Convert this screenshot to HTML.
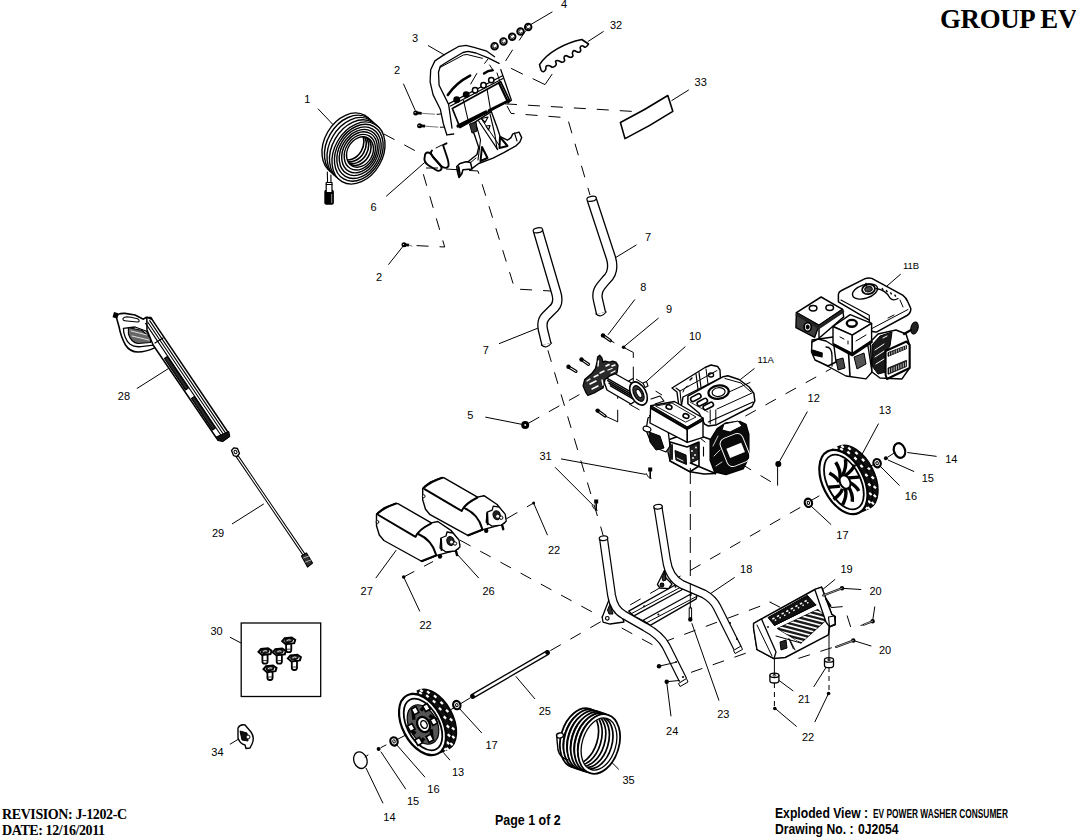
<!DOCTYPE html>
<html><head><meta charset="utf-8">
<style>
html,body{margin:0;padding:0;background:#fff;}
body{width:1076px;height:838px;overflow:hidden;position:relative;}
svg{position:absolute;left:0;top:0;}
.lb text{font-family:"Liberation Sans",sans-serif;font-size:11px;fill:#000;text-anchor:middle;}
.ld line{stroke:#000;stroke-width:1;}
.ds path,.dsh{stroke:#000;stroke-width:1;fill:none;stroke-dasharray:12 11;}
.dsh2{stroke:#000;stroke-width:1;fill:none;stroke-dasharray:5 4;}
.k{stroke:#000;stroke-width:1.2;fill:#fff;stroke-linejoin:round;}
.kn{stroke:#000;stroke-width:1.2;fill:none;stroke-linejoin:round;stroke-linecap:round;}
.ser{font-family:"Liberation Serif",serif;font-weight:bold;position:absolute;white-space:nowrap;line-height:1;}
.san{font-family:"Liberation Sans",sans-serif;font-weight:bold;position:absolute;white-space:nowrap;line-height:1;transform-origin:0 0;}
</style></head><body>
<svg width="1076" height="838" viewBox="0 0 1076 838">
<g class="ld"><line x1="530" y1="25" x2="552.4" y2="11.8"/><line x1="603.6" y1="31.4" x2="587.8" y2="41.6"/><line x1="428" y1="45.5" x2="444.5" y2="55"/><line x1="688.8" y1="89.9" x2="671.5" y2="100.7"/><line x1="403.4" y1="83.7" x2="415.3" y2="110.6"/><line x1="317.9" y1="108.7" x2="334.2" y2="125.8"/><line x1="386.2" y1="196.3" x2="425" y2="162.2"/><line x1="388.4" y1="264.7" x2="404.2" y2="244.8"/><line x1="636.5" y1="244.8" x2="614.3" y2="258.4"/><line x1="499" y1="343.7" x2="538.5" y2="327.9"/><line x1="634.9" y1="299.4" x2="608" y2="334.8"/><line x1="658.6" y1="318" x2="623.8" y2="346.8"/><line x1="685.4" y1="346.5" x2="645" y2="382.7"/><line x1="754.5" y1="368.4" x2="740.3" y2="379.6"/><line x1="900.8" y1="274" x2="887" y2="286"/><line x1="136.8" y1="388.6" x2="168.5" y2="368.5"/><line x1="807.4" y1="411.5" x2="778.5" y2="463.2"/><line x1="878.5" y1="423.6" x2="861.5" y2="455.4"/><line x1="485.3" y1="417.1" x2="521.6" y2="424.3"/><line x1="561" y1="458.9" x2="645.7" y2="474.4"/><line x1="555" y1="467.2" x2="593.2" y2="505.4"/><line x1="907.3" y1="452.5" x2="936.6" y2="456.4"/><line x1="888" y1="460" x2="914.2" y2="471.6"/><line x1="880" y1="466" x2="899.5" y2="485.6"/><line x1="811" y1="506" x2="831.2" y2="524.7"/><line x1="232" y1="524" x2="263.8" y2="503.9"/><line x1="547.5" y1="535.2" x2="533.6" y2="503"/><line x1="375.8" y1="578.1" x2="396.2" y2="550.2"/><line x1="478.8" y1="578.1" x2="457.4" y2="554.5"/><line x1="419.8" y1="611.4" x2="403.7" y2="577"/><line x1="734.7" y1="577.4" x2="709" y2="594.6"/><line x1="835.2" y1="579.3" x2="822.7" y2="589.5"/><line x1="861.2" y1="589.5" x2="842" y2="588.3"/><line x1="871.4" y1="646.1" x2="853.3" y2="640.5"/><line x1="874.8" y1="606.5" x2="872.6" y2="621.2"/><line x1="793.3" y1="691" x2="778.5" y2="680.1"/><line x1="813.7" y1="686.9" x2="827.3" y2="665.4"/><line x1="796.7" y1="726.6" x2="775.1" y2="708.4"/><line x1="814.8" y1="722" x2="828.4" y2="693.7"/><line x1="719" y1="700.6" x2="691.8" y2="623.2"/><line x1="535" y1="699" x2="515.8" y2="676.3"/><line x1="481.8" y1="733" x2="459" y2="708"/><line x1="450" y1="760.2" x2="443.2" y2="752.3"/><line x1="425" y1="777.2" x2="396.7" y2="744.8"/><line x1="405.8" y1="789.2" x2="380.8" y2="751.6"/><line x1="383" y1="803.3" x2="366" y2="768"/><line x1="618.8" y1="769.4" x2="610.9" y2="761.5"/><line x1="229.9" y1="637.2" x2="241.2" y2="643.1"/><line x1="229.9" y1="744.3" x2="238.9" y2="738.9"/><line x1="671" y1="716.3" x2="666.7" y2="682.2"/><line x1="777.6" y1="464" x2="777.6" y2="485.6"/></g>
<g class="ds"><path d="M482,102.5 L640.8,111.9"/><path d="M507,106 L511,113.4 L567.4,117.8 L590,195"/><path d="M446,169 L478,171 L514.8,289 L551,291"/><path d="M438,168 L421.5,168 L444.7,247 L412,245.4"/><path d="M384,134 L425,156"/><path d="M547.9,350.3 L601.6,530 L610,560"/><path d="M528.8,423 L586,390.9"/><path d="M617.7,421.8 L617.7,396"/><path d="M636,379 L662,395"/><path d="M629,404 L652,417"/><path d="M460,540.2 L654.1,645.6 L771.2,602.1"/><path d="M550.4,650.6 L808,503"/><path d="M507,518.5 L533.6,503"/><path d="M691,672.4 L757.8,649"/><path d="M745.3,416.1 L831.4,368.5"/><path d="M740.8,463.7 L774.8,484.1"/></g>
<g><ellipse class="k" cx="348.5" cy="144.0" rx="24.0" ry="33.0" transform="rotate(30 348.5 144.0)" style="stroke-width:1.4"/><ellipse class="k" cx="351.0" cy="146.2" rx="24.0" ry="33.0" transform="rotate(30 351.0 146.2)" style="stroke-width:1.4"/><ellipse class="k" cx="353.5" cy="148.5" rx="24.0" ry="33.0" transform="rotate(30 353.5 148.5)" style="stroke-width:1.4"/><ellipse class="k" cx="356.0" cy="150.8" rx="24.0" ry="33.0" transform="rotate(30 356.0 150.8)" style="stroke-width:1.4"/><ellipse class="k" cx="358.5" cy="153.0" rx="24.0" ry="33.0" transform="rotate(30 358.5 153.0)" style="stroke-width:1.4"/><ellipse class="kn" cx="358.8" cy="152.8" rx="22.1" ry="30.2" transform="rotate(30 358.8 152.8)" style="stroke-width:1.4"/><ellipse class="kn" cx="359.0" cy="152.7" rx="20.2" ry="27.3" transform="rotate(30 359.0 152.7)" style="stroke-width:1.4"/><ellipse class="kn" cx="359.2" cy="152.5" rx="18.2" ry="24.5" transform="rotate(30 359.2 152.5)" style="stroke-width:1.4"/><ellipse class="kn" cx="359.5" cy="152.3" rx="16.3" ry="21.7" transform="rotate(30 359.5 152.3)" style="stroke-width:1.4"/><ellipse class="kn" cx="359.8" cy="152.2" rx="14.4" ry="18.8" transform="rotate(30 359.8 152.2)" style="stroke-width:1.4"/><ellipse class="kn" cx="360.0" cy="152.0" rx="12.5" ry="16.0" transform="rotate(30 360.0 152.0)" style="stroke-width:1.4"/></g>
<clipPath id="h1"><ellipse cx="360" cy="152" rx="12.5" ry="16" transform="rotate(30 360 152)"/></clipPath>
<g clip-path="url(#h1)"><ellipse class="kn" cx="357.6" cy="150.2" rx="12.5" ry="16.0" transform="rotate(30 357.6 150.2)" style="stroke-width:1.6"/><ellipse class="kn" cx="355.2" cy="148.4" rx="12.5" ry="16.0" transform="rotate(30 355.2 148.4)" style="stroke-width:1.6"/><ellipse class="kn" cx="352.8" cy="146.6" rx="12.5" ry="16.0" transform="rotate(30 352.8 146.6)" style="stroke-width:1.6"/><ellipse class="kn" cx="350.4" cy="144.8" rx="12.5" ry="16.0" transform="rotate(30 350.4 144.8)" style="stroke-width:1.6"/></g>
<polyline class="kn" points="327.3,172.0 327.6,183.0" style="stroke-width:1.1"/>
<polyline class="kn" points="330.9,175.0 331.0,183.0" style="stroke-width:1.1"/>
<rect x="324.3" y="189.8" width="9.6" height="15" rx="2" fill="#000"/>
<rect x="331" y="194" width="1.2" height="9" fill="#777"/>
<polygon class="k" points="326.2,182.5 332.0,182.5 332.0,192.5 326.2,192.5" style="stroke-width:1.2"/>
<polyline class="kn" points="326.2,184.5 332.0,184.5" style="stroke-width:1"/>
<circle cx="494.6" cy="46.2" r="3.3" fill="#fff" stroke="#000" stroke-width="1.9"/>
<path d="M494.90,44.53 A1.7,1.7 0 1 0 496.27,46.50" fill="none" stroke="#000" stroke-width="0.9"/>
<circle cx="503.5" cy="41.4" r="3.3" fill="#fff" stroke="#000" stroke-width="1.9"/>
<path d="M503.80,39.73 A1.7,1.7 0 1 0 505.17,41.70" fill="none" stroke="#000" stroke-width="0.9"/>
<circle cx="512.2" cy="36.8" r="3.3" fill="#fff" stroke="#000" stroke-width="1.9"/>
<path d="M512.50,35.13 A1.7,1.7 0 1 0 513.87,37.10" fill="none" stroke="#000" stroke-width="0.9"/>
<circle cx="520.5" cy="31.6" r="3.3" fill="#fff" stroke="#000" stroke-width="1.9"/>
<path d="M520.80,29.93 A1.7,1.7 0 1 0 522.17,31.90" fill="none" stroke="#000" stroke-width="0.9"/>
<circle cx="528.2" cy="27" r="3.3" fill="#fff" stroke="#000" stroke-width="1.9"/>
<path d="M528.50,25.33 A1.7,1.7 0 1 0 529.87,27.30" fill="none" stroke="#000" stroke-width="0.9"/>
<polyline class="kn" points="525.6,30.9 519.4,40.1" style="stroke-width:1"/>
<path class="kn" d="M446.8,134.8 L443.3,123.5 L440.3,109.2 L433.1,94.9 L430.1,81.8 L430.7,69.8 L434.9,60.9 L443.9,54.9 L459,46.3 L466,45.4 L474,47.3 L486.8,51.2 L494.6,56.7" style="stroke-width:1.3"/>
<polyline class="kn" points="452.0,128.0 448.6,104.4 439.1,85.3 438.5,72.2 440.3,66.2 449.8,60.3 463.0,52.5 468.0,51.3 476.0,53.0 488.0,57.8 499.1,63.4" style="stroke-width:1.3"/>
<polyline class="kn" points="440.0,67.5 463.4,55.0 467.0,54.5 482.4,58.3" style="stroke-width:1"/>
<polyline class="kn" points="500.8,69.6 511.4,100.2 508.0,103.0" style="stroke-width:1.3"/>
<polyline class="kn" points="497.0,73.0 505.0,97.0" style="stroke-width:1"/>
<path class="kn" d="M447.8,95 Q456,83 470.1,75.7" style="stroke-width:2.6"/>
<path class="kn" d="M484,73.5 Q488,70.5 492.4,70.3" style="stroke-width:2.4"/>
<polyline class="kn" points="449.0,103.6 502.5,75.7" style="stroke-width:1.2"/>
<polyline class="kn" points="450.5,106.0 503.0,78.5" style="stroke-width:1.2"/>
<polygon class="k" points="452.3,108.5 500.8,81.8 509.5,100.2 460.0,127.5" style="stroke-width:1.7"/>
<polyline class="kn" points="468.5,122.0 463.5,100.5" style="stroke-width:1.1"/>
<polyline class="kn" points="490.4,109.0 487.0,89.0" style="stroke-width:1.1"/>
<polyline class="kn" points="499.0,83.0 507.0,100.0" style="stroke-width:2.2"/>
<circle cx="456.7" cy="99.7" r="2.7" fill="#000" stroke="#000" stroke-width="1.5"/>
<circle cx="466.2" cy="94.6" r="2.7" fill="#000" stroke="#000" stroke-width="1.5"/>
<circle cx="475.1" cy="90.2" r="2.7" fill="#fff" stroke="#000" stroke-width="1.5"/>
<circle cx="483.5" cy="85.2" r="2.7" fill="#fff" stroke="#000" stroke-width="1.5"/>
<circle cx="491.3" cy="80.1" r="2.7" fill="#fff" stroke="#000" stroke-width="1.5"/>
<polyline class="kn" points="476.8,73.5 470.7,84.0" style="stroke-width:1"/>
<polyline class="kn" points="484.6,63.4 488.0,59.0" style="stroke-width:1"/>
<polyline class="kn" points="489.6,65.0 493.5,70.7" style="stroke-width:1"/>
<polyline class="kn" points="512.5,50.0 505.8,60.6" style="stroke-width:1"/>
<polyline class="kn" points="511.4,68.5 522.5,74.0" style="stroke-width:1"/>
<polyline class="kn" points="533.0,78.8 545.0,84.6 552.0,74.3" style="stroke-width:1"/>
<polyline class="kn" points="458.0,126.0 486.0,112.0" style="stroke-width:3.2"/>
<polyline class="kn" points="489.0,110.5 509.0,100.5" style="stroke-width:2.6"/>
<polyline class="kn" points="446.8,134.8 453.7,134.0" style="stroke-width:1.3"/>
<polygon class="k" points="470.7,124.9 475.1,136.6 478.7,147.4 477.0,154.5 468.0,161.7 459.0,164.4 457.3,168.9 459.0,176.5 461.7,173.3 462.6,168.9 471.6,168.9 478.7,163.5 493.0,158.1 503.8,152.7 516.3,145.6 519.9,142.0 521.7,137.6 519.0,132.1 512.8,133.9 511.0,137.6 507.4,140.2 500.2,136.6 496.6,125.9 491.3,111.6" style="stroke-width:1.4"/>
<polyline class="kn" points="476.0,124.0 480.5,140.0 478.0,160.0" style="stroke-width:1.1"/>
<polyline class="kn" points="478.6,121.0 497.7,149.6" style="stroke-width:1.2"/>
<polyline class="kn" points="481.5,119.0 499.0,145.0" style="stroke-width:1"/>
<polyline class="kn" points="490.0,114.0 495.0,135.0 497.0,149.0" style="stroke-width:1.1"/>
<polygon class="k" points="482.0,147.0 487.5,158.0 480.5,161.0" style="stroke-width:2"/>
<polygon class="k" points="500.0,137.0 507.5,146.0 499.5,148.0" style="stroke-width:2"/>
<polygon class="k" points="481.5,118.5 488.0,117.0 485.0,122.5" style="stroke-width:1.2"/>
<polygon class="k" points="486.0,126.0 490.0,125.5 488.5,130.0" style="stroke-width:1.2"/>
<polygon class="k" points="469.5,124.0 476.0,122.0 477.0,131.0 472.0,133.0" style="fill:#333;stroke-width:1"/>
<polyline class="kn" points="460.5,165.0 470.0,163.0 476.0,158.0" style="stroke-width:1"/>
<polygon class="k" points="456.7,166.5 460.0,163.5 466.0,161.8 470.5,162.5 472.0,168.9 463.0,169.8 461.7,174.0 459.0,177.5 457.3,171.0" style="stroke-width:1.5"/>
<polyline class="kn" points="458.5,167.0 459.8,175.5" style="stroke-width:2.2"/>
<polyline class="kn" points="514.5,133.0 517.0,141.0" style="stroke-width:1.1"/>
<path class="kn" d="M424.8,156.5 C425,151 430,151 433,157 L441,166 C443,170 439,172 436,170 L428,165 C424,162 424,159 424.8,156.5 Z" style="stroke-width:1.9"/>
<path class="kn" d="M432,150.5 C430,152 431,155 434,158 L441,166 C444,168 447,169 448.5,166 C449,163 448,160 447,157 L443,145 L446.5,143.3" style="stroke-width:1.9"/>
<polyline class="kn" points="436.0,148.0 442.0,145.0" style="stroke-width:1"/>
<circle cx="415.7" cy="112.9" r="2.5" fill="#000"/>
<circle cx="415.09999999999997" cy="112.60000000000001" r="0.6" fill="#fff"/>
<polyline class="kn" points="417.2,112.9 421.7,113.3" style="stroke-width:2.8;stroke-linecap:butt"/>
<polyline class="kn" points="421.7,113.3 434.6,114.2" style="stroke-width:0.8;stroke:#555"/>
<circle cx="419.6" cy="125.8" r="2.5" fill="#000"/>
<circle cx="419.0" cy="125.5" r="0.6" fill="#fff"/>
<polyline class="kn" points="421.1,125.8 425.1,126.2" style="stroke-width:2.8;stroke-linecap:butt"/>
<polyline class="kn" points="425.1,126.2 437.9,127.1" style="stroke-width:0.8;stroke:#555"/>
<circle cx="404" cy="244.8" r="2.5" fill="#000"/>
<circle cx="403.4" cy="244.5" r="0.6" fill="#fff"/>
<polyline class="kn" points="405.5,244.8 409.0,245.2" style="stroke-width:2.8;stroke-linecap:butt"/>
<polyline class="kn" points="409.0,245.2 412.0,246.1" style="stroke-width:0.8;stroke:#555"/>
<polyline class="kn" points="437.0,114.3 441.0,114.0" style="stroke-width:1"/>
<polyline class="kn" points="440.3,127.2 444.6,127.2" style="stroke-width:1"/>
<path class="k" d="M587.4,45.6 C587.0,45.9 586.1,47.2 585.2,47.2 C584.4,47.2 583.1,45.8 582.3,45.8 C581.5,45.8 580.5,46.5 580.2,47.3 C579.9,48.1 581.0,49.8 580.7,50.6 C580.4,51.4 579.6,52.3 578.5,52.3 C577.4,52.3 575.0,50.5 574,50.6 C573.0,50.7 572.6,51.9 572.4,52.8 C572.2,53.7 573.3,55.5 572.9,56.2 C572.5,57.0 571.2,57.4 570.1,57.3 C569.0,57.2 567.2,55.6 566.2,55.6 C565.2,55.6 564.3,56.4 564,57.3 C563.7,58.1 564.9,59.9 564.6,60.7 C564.3,61.5 563.3,62.3 562.3,62.3 C561.3,62.3 559.5,60.9 558.4,60.7 C557.3,60.5 556.0,60.6 555.6,61.2 C555.2,61.9 556.7,63.6 556.2,64.6 C555.7,65.6 553.9,67.1 552.8,67.3 C551.7,67.5 550.6,65.9 549.5,65.7 C548.4,65.5 546.9,65.6 546.2,66.2 C545.6,66.8 546.1,68.7 545.6,69.6 C545.1,70.5 544.1,71.7 543.4,71.8 C542.6,71.9 541.8,71.3 541.1,70.1 C540.5,68.9 539.8,65.5 539.5,64.6  C548,52 565,43 581.8,39.5 L588.5,44 Z" style="stroke-width:1.6"/>
<path class="k" d="M620.4,122.5 Q645,110 667.8,95.5 L672.8,111.3 Q650,126 625,138.6 Z" style="stroke-width:1.6"/>
<path d="M537.9,230.5 L556,292 Q560,304 552,310 L546,316 Q541,321 543,330 L546.4,344" fill="none" stroke="#000" stroke-width="10.5" stroke-linejoin="round" stroke-linecap="butt"/><path d="M537.9,230.5 L556,292 Q560,304 552,310 L546,316 Q541,321 543,330 L546.4,344" fill="none" stroke="#fff" stroke-width="7.9" stroke-linejoin="round" stroke-linecap="butt"/>
<ellipse class="k" cx="537.9" cy="230.3" rx="4.8" ry="2.4" transform="rotate(-12 537.9 230.3)" />
<path d="M591.6,199 L611,258 Q615,272 606,280 L601,286 Q596,292 598,300 L601,313" fill="none" stroke="#000" stroke-width="10.5" stroke-linejoin="round" stroke-linecap="butt"/><path d="M591.6,199 L611,258 Q615,272 606,280 L601,286 Q596,292 598,300 L601,313" fill="none" stroke="#fff" stroke-width="7.9" stroke-linejoin="round" stroke-linecap="butt"/>
<ellipse class="k" cx="591.6" cy="198.8" rx="4.8" ry="2.4" transform="rotate(-12 591.6 198.8)" />
<path class="kn" d="M541.4,345 Q546.5,349.5 551.6,343" style="stroke-width:1.2"/>
<path class="kn" d="M596,314 Q601,318.5 606.2,312" style="stroke-width:1.2"/>
<polygon class="k" points="603.0,379.0 612.0,372.0 636.0,385.5 641.0,397.0 631.0,404.0 607.0,390.0" style="fill:#fff;stroke-width:1.4"/>
<polyline class="kn" points="606.4,377.9 632.4,392.9" style="stroke:#000;stroke-width:1.6"/>
<polyline class="kn" points="607.8,380.6 633.8,395.6" style="stroke:#000;stroke-width:1.6"/>
<polyline class="kn" points="609.1,383.2 635.1,398.2" style="stroke:#000;stroke-width:1.6"/>
<polyline class="kn" points="610.5,385.9 636.5,400.9" style="stroke:#000;stroke-width:1.6"/>
<ellipse class="k" cx="638.5" cy="393.5" rx="7.5" ry="12.5" transform="rotate(-28 638.5 393.5)" style="stroke-width:1.6"/>
<ellipse class="k" cx="638.5" cy="393.5" rx="4.5" ry="8.5" transform="rotate(-28 638.5 393.5)" style="fill:#333;stroke-width:1.2"/>
<ellipse class="k" cx="639.0" cy="393.5" rx="2.2" ry="4.5" transform="rotate(-28 639.0 393.5)" style="fill:#fff;stroke-width:1"/>
<polygon class="k" points="643.0,383.0 646.5,381.5 648.0,386.0 645.0,387.5" style="stroke-width:1.1"/>
<polyline class="kn" points="628.7,381.0 633.0,378.5" style="stroke-width:1.1"/>
<polygon class="k" points="583.1,385.9 584.7,379.4 592.2,373.0 595.4,368.7 597.0,362.2 597.6,356.9 599.7,355.2 601.9,357.9 603.0,362.2 605.1,361.1 609.4,362.2 612.6,361.1 615.9,362.2 618.0,365.4 617.0,373.0 609.4,376.2 605.1,379.4 603.0,388.0 595.4,392.3 587.9,395.5 585.8,392.3" style="fill:#2a2a2a;stroke-width:1.3"/>
<polyline class="kn" points="590.0,384.0 596.0,381.0" style="stroke:#fff;stroke-width:1.6"/>
<polyline class="kn" points="592.0,389.0 598.0,386.0" style="stroke:#fff;stroke-width:1.4"/>
<polyline class="kn" points="598.0,366.0 598.5,361.0" style="stroke:#fff;stroke-width:1.4"/>
<polyline class="kn" points="606.0,366.0 609.0,364.5" style="stroke:#fff;stroke-width:1.6"/>
<polyline class="kn" points="612.0,366.0 615.0,365.0" style="stroke:#fff;stroke-width:1.4"/>
<polyline class="kn" points="600.0,373.0 604.0,371.0" style="stroke:#fff;stroke-width:1.5"/>
<polyline class="kn" points="587.0,381.0 590.0,379.0" style="stroke:#fff;stroke-width:1.3"/>
<polyline class="kn" points="608.0,370.0 612.0,368.5" style="stroke:#fff;stroke-width:1.3"/>
<polyline class="kn" points="594.0,377.0 598.0,375.0" style="stroke:#fff;stroke-width:1.4"/>
<polyline class="kn" points="602.0,380.0 603.0,385.0" style="stroke:#fff;stroke-width:1.4"/>
<polyline class="kn" points="611.0,373.0 615.0,371.0" style="stroke:#fff;stroke-width:1.3"/>
<polyline class="kn" points="581.5,359.5 588.5,364.4" style="stroke-width:3.2"/>
<polyline class="kn" points="581.5,359.5 588.5,364.4" style="stroke:#fff;stroke-width:1"/>
<circle cx="581.5" cy="359.5" r="2.2" fill="#000"/>
<polyline class="kn" points="568.5,366.8 576.0,371.4" style="stroke-width:3.2"/>
<polyline class="kn" points="568.5,366.8 576.0,371.4" style="stroke:#fff;stroke-width:1"/>
<circle cx="568.5" cy="366.8" r="2.2" fill="#000"/>
<polyline class="kn" points="597.6,410.6 605.1,416.0" style="stroke-width:3.2"/>
<polyline class="kn" points="597.6,410.6 605.1,416.0" style="stroke:#fff;stroke-width:1"/>
<circle cx="597.6" cy="410.6" r="2.2" fill="#000"/>
<polyline class="kn" points="603.0,335.4 610.5,340.7" style="stroke-width:3.2"/>
<polyline class="kn" points="603.0,335.4 610.5,340.7" style="stroke:#fff;stroke-width:1"/>
<circle cx="603" cy="335.4" r="2.2" fill="#000"/>
<circle cx="623.6" cy="347.2" r="1.8" fill="#000"/>
<polyline class="kn" points="610.5,340.7 614.0,342.5" style="stroke-width:1"/>
<polyline class="kn" points="623.4,347.3 633.3,352.4 633.3,357.5" style="stroke-width:1"/>
<polyline class="kn" points="633.3,367.0 633.3,381.0" style="stroke-width:1"/>
<polyline class="kn" points="605.1,416.0 617.7,421.8" style="stroke-width:1"/>
<circle cx="525.2" cy="425" r="4" fill="#000"/>
<circle cx="525.2" cy="425" r="0.9" fill="#fff"/>
<rect x="594.2" y="499.5" width="4" height="4" fill="#000"/>
<polyline class="kn" points="596.2,503.5 596.2,509.5" style="stroke-width:1.6"/>
<path class="kn" d="M592.2,505.5 Q595.2,511.5 597.2,510.5" style="stroke-width:1"/>
<rect x="648.2" y="467.5" width="4" height="4" fill="#000"/>
<polyline class="kn" points="650.2,471.5 650.2,477.5" style="stroke-width:1.6"/>
<path class="kn" d="M646.2,473.5 Q649.2,479.5 651.2,478.5" style="stroke-width:1"/>
<polygon class="k" points="668.0,440.0 690.0,432.0 712.0,440.0 715.5,473.5 704.0,474.0 690.0,471.7 670.1,461.0 668.0,452.0" style="stroke-width:1.4"/>
<polygon class="k" points="648.0,418.0 655.0,414.0 664.0,420.0 668.0,430.0 670.0,446.0 666.0,452.0 656.0,448.0 650.0,440.0 646.0,430.0" style="stroke-width:1.3"/>
<polygon class="k" points="649.0,432.0 660.0,436.0 664.0,448.0 656.0,450.0 650.0,442.0" style="fill:#111;stroke-width:1"/>
<polygon class="k" points="657.0,418.0 661.0,416.0 665.0,424.0 661.0,428.0" style="fill:#000"/>
<ellipse class="k" cx="647.0" cy="429.0" rx="4.0" ry="2.6" transform="rotate(20 647.0 429.0)" style="stroke-width:1.2"/>
<polygon class="k" points="670.1,442.0 687.0,447.0 699.0,442.0 699.0,466.0 690.0,471.7 670.1,461.0" style="stroke-width:1.6"/>
<polygon class="k" points="675.0,450.5 686.0,455.0 686.5,464.5 676.0,460.0" style="fill:#151515;stroke-width:1"/>
<polygon class="k" points="690.0,447.0 698.0,442.5 698.8,459.0 691.0,463.0" style="fill:#222;stroke-width:1"/>
<circle cx="692" cy="451" r="0.9" fill="#fff"/>
<circle cx="695" cy="455" r="0.9" fill="#fff"/>
<circle cx="693" cy="458" r="0.9" fill="#fff"/>
<circle cx="696" cy="447.5" r="0.9" fill="#fff"/>
<polyline class="kn" points="677.0,458.0 683.0,461.0" style="stroke:#fff;stroke-width:0.9"/>
<polyline class="kn" points="672.0,445.0 672.0,459.0" style="stroke-width:1.8"/>
<polyline class="kn" points="690.5,463.0 715.5,473.5" style="stroke-width:1.8"/>
<polyline class="kn" points="703.5,447.0 703.5,456.0" style="stroke-width:1.1"/>
<polyline class="kn" points="690.0,434.0 700.0,438.0 705.0,442.0" style="stroke-width:1"/>
<polygon class="k" points="710.2,440.2 717.3,428.7 725.9,423.0 740.2,421.6 746.0,424.4 748.8,434.5 748.8,457.4 743.1,468.8 725.9,474.6 714.5,471.7 710.2,460.2" style="fill:#0a0a0a;stroke-width:1.5"/>
<rect x="723" y="435" width="24" height="30" rx="6" fill="none" stroke="#fff" stroke-width="1" transform="rotate(-22 735 450)"/>
<rect x="727.5" y="445.5" width="16" height="10" fill="#fff" transform="rotate(-22 735 450)"/>
<polyline class="kn" points="713.0,446.0 718.0,436.0" style="stroke:#fff;stroke-width:0.8"/>
<polyline class="kn" points="714.0,456.0 720.0,450.0" style="stroke:#fff;stroke-width:0.8"/>
<polyline class="kn" points="716.0,466.0 722.0,462.0" style="stroke:#fff;stroke-width:0.8"/>
<polygon class="k" points="724.0,424.0 738.0,421.0 742.0,426.0 730.0,432.0 722.0,430.0" style="fill:#fff;stroke-width:1"/>
<polygon class="k" points="672.0,388.0 676.0,385.5 705.0,367.5 711.0,365.0 717.6,366.5 720.0,370.0 720.4,378.0 683.0,397.0 681.4,405.5 678.6,404.0 677.0,392.0" style="stroke-width:1.4"/>
<polyline class="kn" points="676.0,388.0 680.0,391.0 681.4,405.5" style="stroke-width:1.1"/>
<polyline class="kn" points="680.0,391.0 717.0,370.5" style="stroke-width:1"/>
<path class="kn" d="M683,392 Q685,386 688,386" style="stroke-width:1"/>
<polyline class="kn" points="696.0,374.0 698.0,389.0" style="stroke-width:1.2"/>
<polyline class="kn" points="699.0,372.5 701.0,387.5" style="stroke-width:1.2"/>
<polyline class="kn" points="706.0,369.0 708.0,384.0" style="stroke-width:1"/>
<ellipse class="kn" cx="711.0" cy="375.0" rx="2.6" ry="2.0" transform="rotate(0 711.0 375.0)" style="stroke-width:1.3"/>
<polyline class="kn" points="690.0,380.0 692.0,378.0" style="stroke-width:1.4"/>
<polygon class="k" points="687.9,396.2 723.2,376.7 727.8,375.8 739.0,379.5 749.2,387.0 753.9,393.5 754.8,400.9 752.0,406.5 715.8,425.1 708.3,426.0 704.6,424.1 699.0,413.0 687.9,403.7" style="stroke-width:1.5"/>
<polyline class="kn" points="725.0,378.5 741.0,383.0 751.0,392.0" style="stroke-width:1"/>
<polyline class="kn" points="730.0,392.0 752.0,380.0" style="stroke-width:0"/>
<polyline class="kn" points="729.0,392.0 750.0,382.5" style="stroke-width:1"/>
<polyline class="kn" points="717.0,409.0 752.0,393.0" style="stroke-width:1"/>
<polyline class="kn" points="708.3,422.0 753.0,402.0" style="stroke-width:1.2"/>
<polyline class="kn" points="710.2,410.0 710.2,424.0" style="stroke-width:1"/>
<polyline class="kn" points="715.8,410.0 715.8,424.0" style="stroke-width:1"/>
<polyline class="kn" points="690.0,402.0 708.0,412.0" style="stroke-width:0.8"/>
<ellipse class="k" cx="718.6" cy="392.1" rx="10.2" ry="6.6" transform="rotate(-8 718.6 392.1)" style="stroke-width:2.2"/>
<ellipse class="kn" cx="718.6" cy="392.1" rx="6.5" ry="4.4" transform="rotate(-8 718.6 392.1)" style="stroke-width:1.2"/>
<rect x="690.3" y="395.3" width="11" height="4.6" rx="2.2" fill="#fff" stroke="#000" stroke-width="1.6" transform="rotate(-28 695.8 397.6)"/>
<rect x="696.8" y="399.9" width="11" height="4.6" rx="2.2" fill="#fff" stroke="#000" stroke-width="1.6" transform="rotate(-28 702.3 402.2)"/>
<rect x="702.8" y="403.7" width="11" height="4.6" rx="2.2" fill="#fff" stroke="#000" stroke-width="1.6" transform="rotate(-28 708.3 406)"/>
<polygon class="k" points="650.7,405.8 674.4,401.5 703.0,418.0 687.3,427.3" style="stroke-width:1.4"/>
<polygon class="k" points="650.7,405.8 687.3,427.3 687.3,442.3 650.0,423.0" style="stroke-width:1.4"/>
<polygon class="k" points="687.3,427.3 703.0,418.0 703.0,437.3 687.3,442.3" style="stroke-width:1.4"/>
<polyline class="kn" points="651.0,408.0 687.0,429.0" style="stroke-width:2.2"/>
<polyline class="kn" points="687.0,429.0 703.0,420.0" style="stroke-width:2.2"/>
<polygon class="kn" points="656.0,406.0 672.0,403.0 696.0,417.0 686.0,422.0" style="stroke-width:0.9"/>
<ellipse class="kn" cx="669.0" cy="407.0" rx="3.0" ry="2.2" transform="rotate(20 669.0 407.0)" style="stroke-width:1.6"/>
<ellipse class="kn" cx="686.0" cy="416.0" rx="3.0" ry="2.2" transform="rotate(20 686.0 416.0)" style="stroke-width:1.6"/>
<polyline class="kn" points="651.0,399.0 660.0,396.0 664.0,401.0 655.0,404.0" style="stroke-width:1.1"/>
<polygon class="k" points="812.0,340.0 840.0,336.0 868.0,346.0 872.0,372.0 866.0,378.9 846.0,376.0 820.0,362.0 812.0,352.0" style="stroke-width:1.4"/>
<polygon class="k" points="836.0,360.0 843.0,358.0 845.0,368.0 838.0,370.0" style="fill:#444;stroke-width:1"/>
<polygon class="k" points="854.0,357.0 864.0,353.0 866.0,364.0 857.0,369.0" style="fill:#555;stroke-width:1"/>
<polyline class="kn" points="848.0,345.0 850.0,376.0" style="stroke-width:1.6"/>
<polygon class="k" points="812.0,342.0 818.0,339.0 826.0,341.0 834.0,346.0 836.0,362.0 828.0,366.0 815.0,360.0 811.5,352.0" style="stroke-width:1.4"/>
<polygon class="k" points="812.6,350.0 822.2,353.0 822.0,357.0 813.0,355.0" style="fill:#000"/>
<path class="kn" d="M826,347 Q832,347 832,356 L832,366" style="stroke-width:1.3"/>
<polygon class="k" points="870.2,342.0 878.0,334.0 896.0,330.0 906.0,334.0 909.6,345.0 909.6,368.0 902.0,378.9 880.0,378.0 872.0,372.0" style="stroke-width:1.5"/>
<polygon class="k" points="872.0,345.0 880.0,336.0 892.0,332.0 890.0,346.0 886.0,352.0 886.0,372.0 878.0,374.0 872.0,366.0" style="fill:#1a1a1a;stroke-width:1"/>
<polyline class="kn" points="875.0,350.0 884.0,344.0" style="stroke:#fff;stroke-width:1"/>
<polyline class="kn" points="875.0,357.0 884.0,351.0" style="stroke:#fff;stroke-width:1"/>
<polyline class="kn" points="876.0,364.0 884.0,359.0" style="stroke:#fff;stroke-width:1"/>
<polyline class="kn" points="883.0,338.0 887.0,336.0" style="stroke:#fff;stroke-width:1"/>
<polygon class="k" points="885.6,351.0 906.5,341.5 909.6,345.0 909.6,368.0 887.0,379.0 885.6,375.0" style="stroke-width:2"/>
<polygon class="k" points="888.0,352.6 906.5,345.6 906.5,348.7 888.0,356.4" style="fill:#1a1a1a;stroke-width:0.8"/>
<polygon class="k" points="888.0,368.0 906.5,360.3 906.5,366.5 888.0,374.3" style="fill:#1a1a1a;stroke-width:0.8"/>
<line x1="889.5" y1="355.5" x2="889.5" y2="352.5" stroke="#fff" stroke-width="0.7"/>
<line x1="889.5" y1="373.0" x2="889.5" y2="368.5" stroke="#fff" stroke-width="0.7"/>
<line x1="891.8" y1="354.6" x2="891.8" y2="351.6" stroke="#fff" stroke-width="0.7"/>
<line x1="891.8" y1="372.1" x2="891.8" y2="367.6" stroke="#fff" stroke-width="0.7"/>
<line x1="894.1" y1="353.6" x2="894.1" y2="350.6" stroke="#fff" stroke-width="0.7"/>
<line x1="894.1" y1="371.1" x2="894.1" y2="366.6" stroke="#fff" stroke-width="0.7"/>
<line x1="896.4" y1="352.6" x2="896.4" y2="349.6" stroke="#fff" stroke-width="0.7"/>
<line x1="896.4" y1="370.1" x2="896.4" y2="365.6" stroke="#fff" stroke-width="0.7"/>
<line x1="898.7" y1="351.7" x2="898.7" y2="348.7" stroke="#fff" stroke-width="0.7"/>
<line x1="898.7" y1="369.2" x2="898.7" y2="364.7" stroke="#fff" stroke-width="0.7"/>
<line x1="901.0" y1="350.8" x2="901.0" y2="347.8" stroke="#fff" stroke-width="0.7"/>
<line x1="901.0" y1="368.2" x2="901.0" y2="363.8" stroke="#fff" stroke-width="0.7"/>
<line x1="903.3" y1="349.8" x2="903.3" y2="346.8" stroke="#fff" stroke-width="0.7"/>
<line x1="903.3" y1="367.3" x2="903.3" y2="362.8" stroke="#fff" stroke-width="0.7"/>
<line x1="905.6" y1="348.9" x2="905.6" y2="345.9" stroke="#fff" stroke-width="0.7"/>
<line x1="905.6" y1="366.4" x2="905.6" y2="361.9" stroke="#fff" stroke-width="0.7"/>
<ellipse class="k" cx="914.5" cy="328.0" rx="3.5" ry="6.0" transform="rotate(15 914.5 328.0)" style="fill:#222;stroke-width:1.2"/>
<polyline class="kn" points="904.0,334.0 911.0,330.0" style="stroke-width:2.2"/>
<path class="k" d="M838.4,301.8 L838.4,294.2 Q838.8,291.5 841.5,290.5 L865.1,278.6 Q868.5,277.5 871.8,278.4 L902.7,295.1 Q906,297.5 907.8,301.8 L910.8,308.5 Q911,313 907,315.5 L876.8,331.9 Q873,332.5 870.1,330.2 L869.3,320.2 L840.9,303.4 Z" style="stroke-width:1.5"/>
<polyline class="kn" points="840.9,300.1 869.3,315.2 869.3,320.2" style="stroke-width:1.1"/>
<polyline class="kn" points="872.0,328.5 908.0,309.5" style="stroke-width:1"/>
<polyline class="kn" points="888.0,318.0 894.0,315.0" style="stroke-width:1"/>
<polyline class="kn" points="900.0,300.0 903.0,307.0" style="stroke-width:1"/>
<ellipse class="kn" cx="865.0" cy="291.5" rx="13.0" ry="6.8" transform="rotate(-18 865.0 291.5)" style="stroke-width:1.3"/>
<path class="kn" d="M876,288.5 Q886,290 890,298 Q893,301.5 898,298.5" style="stroke-width:1.3"/>
<ellipse class="k" cx="868.5" cy="289.2" rx="6.5" ry="4.8" transform="rotate(-12 868.5 289.2)" style="fill:#fff;stroke-width:1.8"/>
<ellipse class="k" cx="868.5" cy="289.2" rx="3.8" ry="2.6" transform="rotate(-12 868.5 289.2)" style="fill:#444;stroke-width:1"/>
<polyline class="kn" points="866.0,283.5 866.5,286.0" style="stroke-width:1.6"/>
<line x1="882.0" y1="288.0" x2="883.2" y2="290.0" stroke="#000" stroke-width="1.4"/>
<line x1="886.2" y1="290.2" x2="887.4" y2="292.2" stroke="#000" stroke-width="1.4"/>
<line x1="890.4" y1="292.4" x2="891.6" y2="294.4" stroke="#000" stroke-width="1.4"/>
<line x1="894.6" y1="294.6" x2="895.8" y2="296.6" stroke="#000" stroke-width="1.4"/>
<polygon class="k" points="796.4,312.6 821.1,297.0 842.6,309.3 819.0,325.4" style="stroke-width:1.5"/>
<polygon class="k" points="796.4,312.6 819.0,325.4 814.7,337.3 795.9,327.6" style="fill:#3c3c3c;stroke-width:1.4"/>
<polygon class="k" points="819.0,325.4 842.6,309.3 843.7,316.9 819.0,338.3" style="stroke-width:1.4"/>
<polyline class="kn" points="797.0,314.5 819.0,327.5 842.8,311.5" style="stroke-width:3;stroke:#222"/>
<ellipse class="k" cx="813.1" cy="308.3" rx="3.8" ry="2.7" transform="rotate(0 813.1 308.3)" style="stroke-width:1.5"/>
<ellipse class="k" cx="829.7" cy="307.7" rx="3.8" ry="2.7" transform="rotate(0 829.7 307.7)" style="stroke-width:1.5"/>
<ellipse class="k" cx="807.7" cy="327.0" rx="3.6" ry="4.3" transform="rotate(0 807.7 327.0)" style="stroke-width:1.8"/>
<ellipse class="k" cx="807.7" cy="327.0" rx="1.5" ry="2.0" transform="rotate(0 807.7 327.0)" style="fill:#000;stroke-width:1"/>
<polygon class="k" points="833.0,326.5 850.2,314.7 871.6,323.3 852.3,335.1" style="stroke-width:1.4"/>
<polygon class="k" points="833.0,326.5 852.3,335.1 852.3,353.4 833.0,343.7" style="stroke-width:1.4"/>
<polygon class="k" points="852.3,335.1 871.6,323.3 871.6,340.5 852.3,353.4" style="stroke-width:1.4"/>
<ellipse class="k" cx="851.8" cy="323.3" rx="5.0" ry="3.4" transform="rotate(0 851.8 323.3)" style="stroke-width:2.4"/>
<polyline class="kn" points="834.0,345.0 852.3,355.0 871.6,342.0" style="stroke-width:2.6"/>
<polyline class="kn" points="840.0,337.0 844.0,339.0" style="stroke-width:1"/>
<polyline class="kn" points="848.0,341.0 848.0,344.0" style="stroke-width:1"/>
<polyline class="kn" points="856.0,341.0 866.0,335.0" style="stroke-width:1"/>
<path class="k" d="M116.7,318.4 C117,314 119,313.2 125,313.4 L135,315 L143.4,319.2 L146,317.5 L151,317.5 L156,327 L158,340 L155.1,347.6 C150,350 144,352 138,352 C132,352 128,349 125.5,345 C122,339 120,332 119,326.7 Z" style="stroke-width:1.6"/>
<path class="k" d="M123.4,328.4 C123.5,334 126,341 130.1,344.3 C133,346.5 137,347 141,346.6 L153.5,345.1 L152,338 L146,331 L135,327 Z" style="stroke-width:1.3"/>
<path class="k" d="M128.4,327.5 L142,330.5 L150.5,337.5 L150.5,342.5 L138,343.5 C133,343 130,339 128.4,334 Z" style="fill:#666;stroke-width:1.1"/>
<path class="k" d="M123,318.5 C124,316.6 127,316.6 131,317.3 L137.5,318.8 C140,320 139.5,322 137.5,322 L127,321 C123.5,320.7 122.5,320 123,318.5 Z" style="stroke-width:1.1"/>
<polyline class="kn" points="131.0,331.0 147.0,335.0" style="stroke:#fff;stroke-width:0.8"/>
<polyline class="kn" points="132.0,336.0 149.0,340.0" style="stroke:#fff;stroke-width:0.8"/>
<rect x="113.2" y="312.5" width="4.4" height="5.5" fill="#000" transform="rotate(15 115.4 315.2)"/>
<polygon class="k" points="146.8,317.3 151.8,319.2 227.8,432.0 229.0,436.5 222.0,441.0 216.1,437.5 153.1,345.0 147.0,330.0" style="stroke-width:1.5"/>
<polyline class="kn" points="149.7,320.6 225.7,433.4" style="stroke-width:1.1"/>
<polyline class="kn" points="147.7,322.0 223.7,434.8" style="stroke-width:1.1"/>
<polyline class="kn" points="145.6,323.4 221.6,436.2" style="stroke-width:1.1"/>
<polyline class="kn" points="155.0,343.0 163.0,338.0" style="stroke-width:1.3"/>
<polygon class="k" points="164.5,358.5 167.3,356.6 188.3,388.0 185.5,389.9" style="fill:#2a2a2a;stroke-width:1.2"/>
<polygon class="k" points="191.5,398.5 194.3,396.6 215.3,428.0 212.5,429.9" style="fill:#2a2a2a;stroke-width:1.2"/>
<polygon class="k" points="216.1,437.0 228.8,431.5 229.8,436.5 223.0,441.5 217.5,440.5" style="fill:#111;stroke-width:1"/>
<polyline class="kn" points="237.0,456.0 305.0,556.0" style="stroke-width:3.2"/>
<polyline class="kn" points="237.0,456.0 305.0,556.0" style="stroke:#fff;stroke-width:1.2"/>
<polygon class="k" points="231.5,450.5 234.0,447.8 237.5,448.5 239.5,453.5 237.0,456.5 233.5,455.5" style="stroke-width:1.3"/>
<ellipse class="k" cx="235.5" cy="452.0" rx="1.4" ry="1.8" transform="rotate(-30 235.5 452.0)" style="stroke-width:1"/>
<polygon class="k" points="301.5,556.0 306.5,553.0 312.5,563.0 307.5,567.0" style="fill:#333;stroke-width:1.2"/>
<polyline class="kn" points="303.5,558.0 309.0,556.0" style="stroke:#fff;stroke-width:0.6"/>
<polyline class="kn" points="305.5,562.0 311.0,560.0" style="stroke:#fff;stroke-width:0.6"/>
<rect x="241.2" y="623" width="79.5" height="73.5" fill="none" stroke="#000" stroke-width="1.3"/>
<rect x="286.09999999999997" y="642.7" width="5.2" height="9.5" rx="2.2" fill="#fff" stroke="#000" stroke-width="1.8"/>
<line x1="286.7" y1="649.2" x2="290.7" y2="649.2" stroke="#000" stroke-width="0.8"/>
<polygon points="282.2,641.2 284.7,638.2 291.7,637.5 295.2,639.9000000000001 294.2,643.2 285.7,644.2" fill="#fff" stroke="#000" stroke-width="2"/>
<ellipse class="k" cx="288.7" cy="640.4" rx="3.8" ry="2.0" transform="rotate(-10 288.7 640.4)" style="fill:#333;stroke-width:1.2"/>
<path d="M286.7,640.7 Q288.7,639.2 290.7,640.2" fill="none" stroke="#fff" stroke-width="0.8"/>
<rect x="262.4" y="653.5" width="5.2" height="10.100000000000023" rx="2.2" fill="#fff" stroke="#000" stroke-width="1.8"/>
<line x1="263" y1="660.6" x2="267" y2="660.6" stroke="#000" stroke-width="0.8"/>
<polygon points="258.5,652.0 261,649.0 268,648.3 271.5,650.7 270.5,654.0 262,655.0" fill="#fff" stroke="#000" stroke-width="2"/>
<ellipse class="k" cx="265.0" cy="651.2" rx="3.8" ry="2.0" transform="rotate(-10 265.0 651.2)" style="fill:#333;stroke-width:1.2"/>
<path d="M263,651.5 Q265,650.0 267,651.0" fill="none" stroke="#fff" stroke-width="0.8"/>
<rect x="276.7" y="653.8" width="5.2" height="9.800000000000068" rx="2.2" fill="#fff" stroke="#000" stroke-width="1.8"/>
<line x1="277.3" y1="660.6" x2="281.3" y2="660.6" stroke="#000" stroke-width="0.8"/>
<polygon points="272.8,652.3 275.3,649.3 282.3,648.5999999999999 285.8,651.0 284.8,654.3 276.3,655.3" fill="#fff" stroke="#000" stroke-width="2"/>
<ellipse class="k" cx="279.3" cy="651.5" rx="3.8" ry="2.0" transform="rotate(-10 279.3 651.5)" style="fill:#333;stroke-width:1.2"/>
<path d="M277.3,651.8 Q279.3,650.3 281.3,651.3" fill="none" stroke="#fff" stroke-width="0.8"/>
<rect x="291.79999999999995" y="659.9" width="5.2" height="10.100000000000023" rx="2.2" fill="#fff" stroke="#000" stroke-width="1.8"/>
<line x1="292.4" y1="667" x2="296.4" y2="667" stroke="#000" stroke-width="0.8"/>
<polygon points="287.9,658.4 290.4,655.4 297.4,654.6999999999999 300.9,657.1 299.9,660.4 291.4,661.4" fill="#fff" stroke="#000" stroke-width="2"/>
<ellipse class="k" cx="294.4" cy="657.6" rx="3.8" ry="2.0" transform="rotate(-10 294.4 657.6)" style="fill:#333;stroke-width:1.2"/>
<path d="M292.4,657.9 Q294.4,656.4 296.4,657.4" fill="none" stroke="#fff" stroke-width="0.8"/>
<rect x="267.4" y="670.7" width="5.2" height="9.299999999999955" rx="2.2" fill="#fff" stroke="#000" stroke-width="1.8"/>
<line x1="268" y1="677" x2="272" y2="677" stroke="#000" stroke-width="0.8"/>
<polygon points="263.5,669.2 266,666.2 273,665.5 276.5,667.9000000000001 275.5,671.2 267,672.2" fill="#fff" stroke="#000" stroke-width="2"/>
<ellipse class="k" cx="270.0" cy="668.4" rx="3.8" ry="2.0" transform="rotate(-10 270.0 668.4)" style="fill:#333;stroke-width:1.2"/>
<path d="M268,668.7 Q270,667.2 272,668.2" fill="none" stroke="#fff" stroke-width="0.8"/>
<path class="k" d="M238,728 Q240,724 245,725 L251,732 Q255,738 252,744 L250,748 L246,748.5 L245,745 Q240,744 238,738 Z" style="stroke-width:1.4"/>
<polygon class="k" points="240.0,731.0 247.0,733.0 248.0,741.0 242.0,740.0" style="fill:#111;stroke-width:1"/>
<circle cx="248" cy="737" r="2" fill="#fff" stroke="#000" stroke-width="1"/>
<polygon class="k" points="422.7,488.7 424.6,486.4 430.1,482.2 442.2,477.6 444.1,477.8 477.5,497.1 484.0,495.7 497.1,504.5 503.6,512.9 505.9,518.5 504.5,523.1 499.8,525.0 483.1,529.6 468.2,535.6 466.4,534.7 430.1,514.7 425.5,509.2 422.7,499.9" style="stroke-width:1.4"/>
<path class="kn" d="M424.59999999999997,489.2 L461.7,510.99999999999994 Q464.2,504.2 477.5,497.49999999999994" style="stroke-width:2"/>
<path class="kn" d="M464.5,508.2 Q478.2,514.2 482.2,528.7" style="stroke-width:2"/>
<path class="kn" d="M468.2,535.2 L482.2,529.7" style="stroke-width:2.2"/>
<path class="kn" d="M423.2,488.2 Q431.2,481.2 442.2,477.7" style="stroke-width:2"/>
<path class="k" d="M486.2,522.2 L487.2,512.2 L492.2,510.2 L493.2,506.2 L499.2,507.2 L505.2,514.2 L506.2,521.2 L501.2,525.2 L492.2,526.2 Z" style="fill:#fff;stroke-width:1.3"/>
<ellipse class="k" cx="496.7" cy="515.2" rx="3.6" ry="4.6" transform="rotate(-20 496.7 515.2)" style="fill:#222;stroke-width:1"/>
<circle cx="497.7" cy="516.2" r="1.5" fill="#fff"/>
<circle cx="501.2" cy="517.7" r="1.7" fill="#fff" stroke="#000" stroke-width="1"/>
<polyline class="kn" points="487.2,513.2 487.7,524.2" style="stroke-width:2"/>
<polyline class="kn" points="502.2,525.2 503.2,529.2" style="stroke-width:2.4"/>
<circle cx="486.2" cy="530.7" r="2.2" fill="#000"/>
<circle cx="423.7" cy="496.2" r="1.4" fill="#fff" stroke="#000" stroke-width="1"/>
<polygon class="k" points="376.5,514.5 378.4,512.2 383.9,508.0 396.0,503.4 397.9,503.6 431.3,522.9 437.8,521.5 450.9,530.3 457.4,538.7 459.7,544.3 458.3,548.9 453.6,550.8 436.9,555.4 422.0,561.4 420.2,560.5 383.9,540.5 379.3,535.0 376.5,525.7" style="stroke-width:1.4"/>
<path class="kn" d="M378.4,515 L415.5,536.8 Q418,530 431.3,523.3" style="stroke-width:2"/>
<path class="kn" d="M418.3,534 Q432,540 436,554.5" style="stroke-width:2"/>
<path class="kn" d="M422,561 L436,555.5" style="stroke-width:2.2"/>
<path class="kn" d="M377,514 Q385,507 396,503.5" style="stroke-width:2"/>
<path class="k" d="M440,548 L441,538 L446,536 L447,532 L453,533 L459,540 L460,547 L455,551 L446,552 Z" style="fill:#fff;stroke-width:1.3"/>
<ellipse class="k" cx="450.5" cy="541.0" rx="3.6" ry="4.6" transform="rotate(-20 450.5 541.0)" style="fill:#222;stroke-width:1"/>
<circle cx="451.5" cy="542.0" r="1.5" fill="#fff"/>
<circle cx="455.0" cy="543.5" r="1.7" fill="#fff" stroke="#000" stroke-width="1"/>
<polyline class="kn" points="441.0,539.0 441.5,550.0" style="stroke-width:2"/>
<polyline class="kn" points="456.0,551.0 457.0,555.0" style="stroke-width:2.4"/>
<circle cx="440.0" cy="556.5" r="2.2" fill="#000"/>
<circle cx="377.5" cy="522.0" r="1.4" fill="#fff" stroke="#000" stroke-width="1"/>
<circle cx="533.6" cy="503" r="1.5" fill="#000"/>
<circle cx="403.7" cy="577" r="1.8" fill="#000"/>
<path class="dsh" d="M403.7,577 L433,561.5" />
<polyline class="kn" points="473.0,696.0 547.0,653.0" style="stroke-width:5"/>
<polyline class="kn" points="473.0,696.0 547.0,653.0" style="stroke:#fff;stroke-width:2.4"/>
<circle cx="472.5" cy="696.5" r="2.4" fill="#000"/>
<circle cx="547.5" cy="652.5" r="2.4" fill="#000"/>
<polyline class="kn" points="447.0,712.0 470.0,698.0" style="stroke-width:1"/>
<ellipse class="k" cx="433.0" cy="720.0" rx="20.0" ry="33.0" transform="rotate(-28 433.0 720.0)" style="fill:#111;stroke-width:1.5"/>
<ellipse class="k" cx="427.8" cy="722.2" rx="20.0" ry="33.0" transform="rotate(-28 427.8 722.2)" style="fill:#111;stroke-width:1.5"/>
<rect x="406.9" y="693.9" width="3.2" height="2.2" fill="#fff" transform="rotate(42 408.5 695.0)"/>
<rect x="412.4" y="691.7" width="3.2" height="2.2" fill="#fff" transform="rotate(42 414.0 692.8)"/>
<rect x="418.9" y="692.1" width="3.2" height="2.2" fill="#fff" transform="rotate(42 420.5 693.2)"/>
<rect x="425.8" y="695.1" width="3.2" height="2.2" fill="#fff" transform="rotate(42 427.4 696.2)"/>
<rect x="432.5" y="700.5" width="3.2" height="2.2" fill="#fff" transform="rotate(42 434.1 701.6)"/>
<rect x="438.5" y="707.8" width="3.2" height="2.2" fill="#fff" transform="rotate(42 440.1 708.9)"/>
<rect x="443.3" y="716.4" width="3.2" height="2.2" fill="#fff" transform="rotate(42 444.9 717.5)"/>
<rect x="446.3" y="725.4" width="3.2" height="2.2" fill="#fff" transform="rotate(42 447.9 726.5)"/>
<rect x="447.3" y="734.2" width="3.2" height="2.2" fill="#fff" transform="rotate(42 448.9 735.3)"/>
<rect x="446.3" y="741.9" width="3.2" height="2.2" fill="#fff" transform="rotate(42 447.9 743.0)"/>
<rect x="443.4" y="747.9" width="3.2" height="2.2" fill="#fff" transform="rotate(42 445.0 749.0)"/>
<rect x="413.9" y="690.6" width="3.2" height="2.2" fill="#fff" transform="rotate(42 415.5 691.7)"/>
<rect x="419.9" y="689.6" width="3.2" height="2.2" fill="#fff" transform="rotate(42 421.5 690.7)"/>
<rect x="426.7" y="691.2" width="3.2" height="2.2" fill="#fff" transform="rotate(42 428.3 692.3)"/>
<rect x="433.6" y="695.4" width="3.2" height="2.2" fill="#fff" transform="rotate(42 435.2 696.5)"/>
<rect x="440.1" y="701.8" width="3.2" height="2.2" fill="#fff" transform="rotate(42 441.7 702.9)"/>
<rect x="445.6" y="709.8" width="3.2" height="2.2" fill="#fff" transform="rotate(42 447.2 710.9)"/>
<rect x="449.5" y="718.6" width="3.2" height="2.2" fill="#fff" transform="rotate(42 451.1 719.7)"/>
<rect x="451.6" y="727.6" width="3.2" height="2.2" fill="#fff" transform="rotate(42 453.2 728.7)"/>
<rect x="451.7" y="736.0" width="3.2" height="2.2" fill="#fff" transform="rotate(42 453.3 737.1)"/>
<rect x="449.8" y="743.0" width="3.2" height="2.2" fill="#fff" transform="rotate(42 451.4 744.1)"/>
<rect x="446.0" y="747.9" width="3.2" height="2.2" fill="#fff" transform="rotate(42 447.6 749.0)"/>
<ellipse class="k" cx="422.5" cy="724.5" rx="20.0" ry="33.0" transform="rotate(-28 422.5 724.5)" style="stroke-width:2.2"/>
<ellipse class="k" cx="423.0" cy="724.5" rx="16.0" ry="28.0" transform="rotate(-28 423.0 724.5)" style="stroke-width:1.8"/>
<ellipse class="k" cx="853.9" cy="477.5" rx="20.5" ry="34.5" transform="rotate(-27 853.9 477.5)" style="fill:#111;stroke-width:1.5"/>
<ellipse class="k" cx="848.6" cy="479.8" rx="20.5" ry="34.5" transform="rotate(-27 848.6 479.8)" style="fill:#111;stroke-width:1.5"/>
<rect x="827.5" y="449.8" width="3.2" height="2.2" fill="#fff" transform="rotate(43 829.1 450.9)"/>
<rect x="833.2" y="447.6" width="3.2" height="2.2" fill="#fff" transform="rotate(43 834.8 448.7)"/>
<rect x="839.9" y="448.2" width="3.2" height="2.2" fill="#fff" transform="rotate(43 841.5 449.3)"/>
<rect x="847.0" y="451.6" width="3.2" height="2.2" fill="#fff" transform="rotate(43 848.6 452.7)"/>
<rect x="853.9" y="457.4" width="3.2" height="2.2" fill="#fff" transform="rotate(43 855.5 458.5)"/>
<rect x="860.0" y="465.1" width="3.2" height="2.2" fill="#fff" transform="rotate(43 861.6 466.2)"/>
<rect x="864.8" y="474.1" width="3.2" height="2.2" fill="#fff" transform="rotate(43 866.4 475.2)"/>
<rect x="867.8" y="483.6" width="3.2" height="2.2" fill="#fff" transform="rotate(43 869.4 484.7)"/>
<rect x="868.8" y="492.8" width="3.2" height="2.2" fill="#fff" transform="rotate(43 870.4 493.9)"/>
<rect x="867.7" y="500.8" width="3.2" height="2.2" fill="#fff" transform="rotate(43 869.3 501.9)"/>
<rect x="864.6" y="506.9" width="3.2" height="2.2" fill="#fff" transform="rotate(43 866.2 508.0)"/>
<rect x="834.7" y="446.5" width="3.2" height="2.2" fill="#fff" transform="rotate(43 836.3 447.6)"/>
<rect x="840.9" y="445.6" width="3.2" height="2.2" fill="#fff" transform="rotate(43 842.5 446.7)"/>
<rect x="847.8" y="447.5" width="3.2" height="2.2" fill="#fff" transform="rotate(43 849.4 448.6)"/>
<rect x="854.9" y="452.1" width="3.2" height="2.2" fill="#fff" transform="rotate(43 856.5 453.2)"/>
<rect x="861.5" y="458.9" width="3.2" height="2.2" fill="#fff" transform="rotate(43 863.1 460.0)"/>
<rect x="867.1" y="467.3" width="3.2" height="2.2" fill="#fff" transform="rotate(43 868.7 468.4)"/>
<rect x="871.1" y="476.6" width="3.2" height="2.2" fill="#fff" transform="rotate(43 872.7 477.7)"/>
<rect x="873.2" y="486.1" width="3.2" height="2.2" fill="#fff" transform="rotate(43 874.8 487.2)"/>
<rect x="873.2" y="494.8" width="3.2" height="2.2" fill="#fff" transform="rotate(43 874.8 495.9)"/>
<rect x="871.1" y="502.0" width="3.2" height="2.2" fill="#fff" transform="rotate(43 872.7 503.1)"/>
<rect x="867.1" y="507.0" width="3.2" height="2.2" fill="#fff" transform="rotate(43 868.7 508.1)"/>
<ellipse class="k" cx="843.4" cy="482.0" rx="20.5" ry="34.5" transform="rotate(-27 843.4 482.0)" style="stroke-width:2.2"/>
<ellipse class="k" cx="843.9" cy="482.0" rx="16.5" ry="29.5" transform="rotate(-27 843.9 482.0)" style="stroke-width:1.8"/>
<ellipse class="k" cx="423.0" cy="724.5" rx="14.0" ry="21.0" transform="rotate(-28 423.0 724.5)" style="fill:#555;stroke-width:1.2"/>
<line x1="431.0" y1="729.3" x2="432.4" y2="741.0" stroke="#000" stroke-width="3.4"/>
<line x1="424.1" y1="738.3" x2="417.7" y2="745.3" stroke="#000" stroke-width="3.4"/>
<line x1="415.6" y1="733.5" x2="407.8" y2="728.8" stroke="#000" stroke-width="3.4"/>
<line x1="414.0" y1="719.7" x2="412.6" y2="708.0" stroke="#000" stroke-width="3.4"/>
<line x1="420.9" y1="710.7" x2="427.3" y2="703.7" stroke="#000" stroke-width="3.4"/>
<line x1="429.4" y1="715.5" x2="437.2" y2="720.2" stroke="#000" stroke-width="3.4"/>
<rect x="427.3" y="735.1" width="5.2" height="6.4" fill="#fff" stroke="#000" stroke-width="1.6" transform="rotate(-28 429.9 738.3)"/>
<rect x="416.0" y="738.2" width="5.2" height="6.4" fill="#fff" stroke="#000" stroke-width="1.6" transform="rotate(-28 418.6 741.4)"/>
<rect x="408.6" y="724.4" width="5.2" height="6.4" fill="#fff" stroke="#000" stroke-width="1.6" transform="rotate(-28 411.2 727.6)"/>
<rect x="412.5" y="707.5" width="5.2" height="6.4" fill="#fff" stroke="#000" stroke-width="1.6" transform="rotate(-28 415.1 710.7)"/>
<rect x="423.8" y="704.4" width="5.2" height="6.4" fill="#fff" stroke="#000" stroke-width="1.6" transform="rotate(-28 426.4 707.6)"/>
<rect x="431.2" y="718.2" width="5.2" height="6.4" fill="#fff" stroke="#000" stroke-width="1.6" transform="rotate(-28 433.8 721.4)"/>
<ellipse class="k" cx="423.5" cy="724.5" rx="6.0" ry="8.0" transform="rotate(-28 423.5 724.5)" style="stroke-width:2.2"/>
<ellipse class="k" cx="424.0" cy="724.5" rx="3.0" ry="4.0" transform="rotate(-28 424.0 724.5)" style="stroke-width:1.4"/>
<path d="M849.0,482.0 Q856.9,486.5 858.7,491.0" fill="none" stroke="#000" stroke-width="3.4"/>
<path d="M848.0,486.1 Q853.2,493.9 852.3,501.7" fill="none" stroke="#000" stroke-width="3.4"/>
<path d="M845.5,488.7 Q847.1,496.8 842.6,504.9" fill="none" stroke="#000" stroke-width="3.4"/>
<path d="M842.5,488.7 Q841.0,494.0 833.5,499.4" fill="none" stroke="#000" stroke-width="3.4"/>
<path d="M840.0,486.1 Q837.2,486.7 828.4,487.2" fill="none" stroke="#000" stroke-width="3.4"/>
<path d="M839.0,482.0 Q837.1,477.5 829.3,473.0" fill="none" stroke="#000" stroke-width="3.4"/>
<path d="M840.0,477.9 Q840.8,470.1 835.7,462.3" fill="none" stroke="#000" stroke-width="3.4"/>
<path d="M842.5,475.3 Q846.9,467.2 845.4,459.1" fill="none" stroke="#000" stroke-width="3.4"/>
<path d="M845.5,475.3 Q853.0,470.0 854.5,464.6" fill="none" stroke="#000" stroke-width="3.4"/>
<path d="M848.0,477.9 Q856.8,477.3 859.6,476.8" fill="none" stroke="#000" stroke-width="3.4"/>
<ellipse class="k" cx="845.0" cy="482.0" rx="5.0" ry="7.0" transform="rotate(-27 845.0 482.0)" style="stroke-width:2"/>
<ellipse class="k" cx="808.4" cy="502.8" rx="3.6" ry="4.2" transform="rotate(-20 808.4 502.8)" style="stroke-width:2.2"/>
<ellipse class="k" cx="808.4" cy="502.8" rx="1.2" ry="1.6" transform="rotate(-20 808.4 502.8)" style="stroke-width:1"/>
<ellipse class="k" cx="877.1" cy="463.2" rx="3.6" ry="4.2" transform="rotate(-20 877.1 463.2)" style="stroke-width:2.2"/>
<ellipse class="k" cx="877.1" cy="463.2" rx="1.2" ry="1.6" transform="rotate(-20 877.1 463.2)" style="stroke-width:1"/>
<ellipse class="k" cx="456.8" cy="705.1" rx="3.6" ry="4.2" transform="rotate(-20 456.8 705.1)" style="stroke-width:2.2"/>
<ellipse class="k" cx="456.8" cy="705.1" rx="1.2" ry="1.6" transform="rotate(-20 456.8 705.1)" style="stroke-width:1"/>
<ellipse class="k" cx="394.0" cy="741.4" rx="3.6" ry="4.2" transform="rotate(-20 394.0 741.4)" style="stroke-width:2.2"/>
<ellipse class="k" cx="394.0" cy="741.4" rx="1.2" ry="1.6" transform="rotate(-20 394.0 741.4)" style="stroke-width:1"/>
<ellipse class="kn" cx="899.5" cy="450.5" rx="5.5" ry="7.5" transform="rotate(-20 899.5 450.5)" style="stroke-width:2.2"/>
<ellipse class="k" cx="360.4" cy="760.2" rx="6.5" ry="8.5" transform="rotate(-20 360.4 760.2)" style="stroke-width:1.3"/>
<circle cx="885.9" cy="458.3" r="2" fill="#000"/>
<circle cx="378.6" cy="748.9" r="2" fill="#000"/>
<polyline class="kn" points="812.0,500.0 819.0,496.0" style="stroke-width:1"/>
<polyline class="kn" points="866.0,468.0 874.0,464.5" style="stroke-width:1"/>
<polyline class="kn" points="888.0,457.0 895.0,452.5" style="stroke-width:1"/>
<polyline class="kn" points="397.0,739.5 406.0,735.0" style="stroke-width:1"/>
<polyline class="kn" points="381.0,747.5 386.0,745.0" style="stroke-width:1"/>
<polyline class="kn" points="365.0,757.0 368.0,755.0" style="stroke-width:1"/>
<circle cx="778.3" cy="464" r="3" fill="#000"/>
<g><ellipse class="k" cx="581.0" cy="738.0" rx="20.0" ry="30.5" transform="rotate(17 581.0 738.0)" style="stroke-width:1.8"/><ellipse class="kn" cx="581.0" cy="738.0" rx="16.8" ry="26.8" transform="rotate(17 581.0 738.0)" style="stroke-width:1.3"/><ellipse class="k" cx="584.6" cy="739.2" rx="20.0" ry="30.5" transform="rotate(17 584.6 739.2)" style="stroke-width:1.8"/><ellipse class="kn" cx="584.6" cy="739.2" rx="16.8" ry="26.8" transform="rotate(17 584.6 739.2)" style="stroke-width:1.3"/><ellipse class="k" cx="588.2" cy="740.4" rx="20.0" ry="30.5" transform="rotate(17 588.2 740.4)" style="stroke-width:1.8"/><ellipse class="kn" cx="588.2" cy="740.4" rx="16.8" ry="26.8" transform="rotate(17 588.2 740.4)" style="stroke-width:1.3"/><ellipse class="k" cx="591.8" cy="741.6" rx="20.0" ry="30.5" transform="rotate(17 591.8 741.6)" style="stroke-width:1.8"/><ellipse class="kn" cx="591.8" cy="741.6" rx="16.8" ry="26.8" transform="rotate(17 591.8 741.6)" style="stroke-width:1.3"/><ellipse class="k" cx="595.4" cy="742.8" rx="20.0" ry="30.5" transform="rotate(17 595.4 742.8)" style="stroke-width:1.8"/><ellipse class="kn" cx="595.4" cy="742.8" rx="16.8" ry="26.8" transform="rotate(17 595.4 742.8)" style="stroke-width:1.3"/><ellipse class="k" cx="599.0" cy="744.0" rx="20.0" ry="30.5" transform="rotate(17 599.0 744.0)" style="stroke-width:1.8"/><ellipse class="kn" cx="599.0" cy="744.0" rx="16.8" ry="26.8" transform="rotate(17 599.0 744.0)" style="stroke-width:1.3"/></g>
<clipPath id="h35"><ellipse cx="599" cy="744" rx="16.5" ry="26.5" transform="rotate(17 599 744)"/></clipPath>
<g clip-path="url(#h35)"><ellipse class="kn" cx="595.4" cy="742.8" rx="16.5" ry="26.5" transform="rotate(17 595.4 742.8)" style="stroke-width:1.7"/><ellipse class="kn" cx="591.8" cy="741.6" rx="16.5" ry="26.5" transform="rotate(17 591.8 741.6)" style="stroke-width:1.7"/><ellipse class="kn" cx="588.2" cy="740.4" rx="16.5" ry="26.5" transform="rotate(17 588.2 740.4)" style="stroke-width:1.7"/><ellipse class="kn" cx="584.6" cy="739.2" rx="16.5" ry="26.5" transform="rotate(17 584.6 739.2)" style="stroke-width:1.7"/><ellipse class="kn" cx="581.0" cy="738.0" rx="16.5" ry="26.5" transform="rotate(17 581.0 738.0)" style="stroke-width:1.7"/></g>
<path class="kn" d="M563,735 Q556,733 557,740 L558,750 Q560,758 568,760" style="stroke-width:1.4"/>
<ellipse class="k" cx="560.0" cy="735.5" rx="3.5" ry="2.5" transform="rotate(-10 560.0 735.5)" style="stroke-width:1.4"/>
<polygon class="k" points="628.7,611.1 677.8,583.5 682.9,586.6 681.9,589.7 633.9,615.9" style="stroke-width:1.3"/>
<polyline class="kn" points="631.8,613.4 680.9,587.1" style="stroke-width:1"/>
<polygon class="k" points="643.1,620.3 693.2,592.7 697.2,594.8 696.2,598.9 650.2,625.4" style="stroke-width:1.3"/>
<polyline class="kn" points="646.5,622.8 696.5,596.5" style="stroke-width:1"/>
<polyline class="kn" points="636.0,617.0 644.0,621.0" style="stroke-width:1"/>
<circle cx="644.1" cy="606.3" r="1" fill="#000"/>
<circle cx="658.4" cy="614.4" r="1" fill="#000"/>
<circle cx="675.5" cy="586.8" r="1" fill="#000"/>
<circle cx="690.6" cy="595.3" r="1" fill="#000"/>
<polygon class="k" points="602.2,617.3 609.3,598.9 614.0,608.0 622.6,618.0 624.0,622.0 610.0,624.0 603.0,622.0" style="stroke-width:1.3"/>
<circle cx="607.3" cy="618.3" r="1.8" fill="#fff" stroke="#000" stroke-width="1.2"/>
<polygon class="k" points="607.5,610.0 610.0,604.0 613.0,614.0 609.0,614.0" style="fill:#333;stroke-width:1"/>
<polygon class="k" points="657.4,584.5 664.5,570.2 666.0,578.0 672.0,584.0 668.6,588.6 660.0,588.0" style="stroke-width:1.3"/>
<circle cx="662" cy="585" r="1.8" fill="#222" stroke="#000" stroke-width="1.2"/>
<polygon class="k" points="662.0,578.0 664.5,572.0 666.0,580.0 663.0,581.0" style="fill:#333;stroke-width:1"/>
<path d="M603.5,538.5 L611.5,595 Q614,610 624,615 L645,627 Q660,635 666,646 L683,680" fill="none" stroke="#000" stroke-width="9" stroke-linejoin="round" stroke-linecap="butt"/><path d="M603.5,538.5 L611.5,595 Q614,610 624,615 L645,627 Q660,635 666,646 L683,680" fill="none" stroke="#fff" stroke-width="6.6" stroke-linejoin="round" stroke-linecap="butt"/>
<polygon class="k" points="678.5,683.5 686.5,678.5 688.0,682.0 680.0,686.5" style="stroke-width:1"/>
<ellipse class="k" cx="603.5" cy="538.3" rx="4.3" ry="2.3" transform="rotate(-5 603.5 538.3)" />
<path d="M658,507 L666.5,560 Q669,578 682,584.5 L704,594 Q713,599 717,607 L737.5,648" fill="none" stroke="#000" stroke-width="9" stroke-linejoin="round" stroke-linecap="butt"/><path d="M658,507 L666.5,560 Q669,578 682,584.5 L704,594 Q713,599 717,607 L737.5,648" fill="none" stroke="#fff" stroke-width="6.6" stroke-linejoin="round" stroke-linecap="butt"/>
<polygon class="k" points="733.5,650.5 741.0,646.0 742.5,649.5 735.0,653.5" style="stroke-width:1"/>
<ellipse class="k" cx="658.0" cy="506.8" rx="4.3" ry="2.3" transform="rotate(-5 658.0 506.8)" />
<circle cx="676" cy="662" r="1.1" fill="#000"/>
<circle cx="683" cy="677" r="1.1" fill="#000"/>
<circle cx="730" cy="623" r="1.1" fill="#000"/>
<circle cx="737" cy="639" r="1.1" fill="#000"/>
<path class="kn" d="M690.3,468 L690.3,610" style="stroke-width:1;stroke-dasharray:16 7;stroke-linecap:butt"/>
<polyline class="kn" points="690.3,600.0 690.3,610.0" style="stroke-width:1"/>
<rect x="689.2" y="608" width="2.4" height="10" fill="#fff" stroke="#000" stroke-width="1"/>
<circle cx="690.3" cy="619.5" r="2.2" fill="#000"/>
<circle cx="659" cy="666.2" r="2.2" fill="#000"/>
<circle cx="666.7" cy="681.7" r="2.2" fill="#000"/>
<polyline class="kn" points="659.0,666.2 674.6,662.6" style="stroke-width:1"/>
<polyline class="kn" points="666.7,681.7 679.3,680.5" style="stroke-width:1"/>
<polygon class="k" points="753.6,623.5 761.5,619.0 814.8,589.5 821.6,587.2 831.8,614.4 835.2,616.7 835.2,624.6 829.5,626.9 828.4,634.8 785.3,657.5 774.0,658.6 757.0,649.5 753.6,628.0" style="stroke-width:1.5"/>
<polygon class="k" points="768.0,617.5 807.3,595.3 815.8,604.8 774.4,625.5" style="fill:#111;stroke-width:1"/>
<rect x="772.0" y="618.5" width="2.4" height="1.5" fill="#fff" transform="rotate(-28 772.0 618.5)"/>
<rect x="773.5" y="621.1" width="1.6" height="1.2" fill="#fff" transform="rotate(-28 772.0 618.5)"/>
<rect x="776.6" y="616.0" width="2.4" height="1.5" fill="#fff" transform="rotate(-28 776.6 616.0)"/>
<rect x="778.1" y="618.6" width="1.6" height="1.2" fill="#fff" transform="rotate(-28 776.6 616.0)"/>
<rect x="781.2" y="613.5" width="2.4" height="1.5" fill="#fff" transform="rotate(-28 781.2 613.5)"/>
<rect x="782.7" y="616.1" width="1.6" height="1.2" fill="#fff" transform="rotate(-28 781.2 613.5)"/>
<rect x="785.8" y="611.0" width="2.4" height="1.5" fill="#fff" transform="rotate(-28 785.8 611.0)"/>
<rect x="787.3" y="613.6" width="1.6" height="1.2" fill="#fff" transform="rotate(-28 785.8 611.0)"/>
<rect x="790.4" y="608.5" width="2.4" height="1.5" fill="#fff" transform="rotate(-28 790.4 608.5)"/>
<rect x="791.9" y="611.1" width="1.6" height="1.2" fill="#fff" transform="rotate(-28 790.4 608.5)"/>
<rect x="795.0" y="606.0" width="2.4" height="1.5" fill="#fff" transform="rotate(-28 795.0 606.0)"/>
<rect x="796.5" y="608.6" width="1.6" height="1.2" fill="#fff" transform="rotate(-28 795.0 606.0)"/>
<rect x="799.6" y="603.5" width="2.4" height="1.5" fill="#fff" transform="rotate(-28 799.6 603.5)"/>
<rect x="801.1" y="606.1" width="1.6" height="1.2" fill="#fff" transform="rotate(-28 799.6 603.5)"/>
<rect x="804.2" y="601.0" width="2.4" height="1.5" fill="#fff" transform="rotate(-28 804.2 601.0)"/>
<rect x="805.7" y="603.6" width="1.6" height="1.2" fill="#fff" transform="rotate(-28 804.2 601.0)"/>
<polygon class="k" points="777.6,628.6 817.9,609.6 827.0,619.0 800.9,642.9" style="fill:#1a1a1a;stroke-width:1.1"/>
<clipPath id="tr"><polygon points="777.6,628.6 817.9,609.6 827.0,619.0 800.9,642.9"/></clipPath>
<g clip-path="url(#tr)"><line x1="770" y1="595.2" x2="835" y2="612.2" stroke="#fff" stroke-width="1.7"/><line x1="770" y1="599.4" x2="835" y2="616.4" stroke="#fff" stroke-width="1.7"/><line x1="770" y1="603.6" x2="835" y2="620.6" stroke="#fff" stroke-width="1.7"/><line x1="770" y1="607.8" x2="835" y2="624.8" stroke="#fff" stroke-width="1.7"/><line x1="770" y1="612.0" x2="835" y2="629.0" stroke="#fff" stroke-width="1.7"/><line x1="770" y1="616.2" x2="835" y2="633.2" stroke="#fff" stroke-width="1.7"/><line x1="770" y1="620.4" x2="835" y2="637.4" stroke="#fff" stroke-width="1.7"/><line x1="770" y1="624.6" x2="835" y2="641.6" stroke="#fff" stroke-width="1.7"/><line x1="770" y1="628.8" x2="835" y2="645.8" stroke="#fff" stroke-width="1.7"/><line x1="770" y1="633.0" x2="835" y2="650.0" stroke="#fff" stroke-width="1.7"/><line x1="770" y1="637.2" x2="835" y2="654.2" stroke="#fff" stroke-width="1.7"/><line x1="770" y1="641.4" x2="835" y2="658.4" stroke="#fff" stroke-width="1.7"/><line x1="770" y1="645.6" x2="835" y2="662.6" stroke="#fff" stroke-width="1.7"/></g>
<polyline class="kn" points="774.4,625.5 816.0,605.0" style="stroke-width:1"/>
<polygon class="k" points="753.6,623.5 761.5,619.0 776.0,652.0 774.0,658.6 757.0,649.5 753.6,628.0" style="stroke-width:1.3"/>
<polyline class="kn" points="757.0,625.0 772.0,656.0" style="stroke-width:1"/>
<circle cx="768" cy="627" r="0.9" fill="#000"/>
<polygon class="k" points="814.8,589.5 821.6,587.2 831.8,614.4 835.2,616.7 835.2,624.6 829.5,626.9 826.0,622.0" style="stroke-width:1.3"/>
<polygon class="k" points="828.5,617.0 834.5,616.0 835.0,624.0 829.5,626.5" style="stroke-width:1.2"/>
<polygon class="k" points="780.0,642.0 786.0,640.0 787.0,648.0 781.0,650.0" style="fill:#222;stroke-width:1"/>
<polyline class="kn" points="776.0,636.0 800.9,643.0" style="stroke-width:1"/>
<polyline class="kn" points="790.0,640.0 795.0,650.0" style="stroke-width:1"/>
<path class="k" d="M769.9,675.3 L769.9,680.8 A4.5,2.2 0 0 0 778.9,680.8 L778.9,675.3 Z" style="stroke-width:1.3"/>
<ellipse class="k" cx="774.4" cy="675.3" rx="4.5" ry="2.2" transform="rotate(0 774.4 675.3)" style="stroke-width:1.3"/>
<ellipse class="k" cx="774.4" cy="675.3" rx="1.4" ry="0.8" transform="rotate(0 774.4 675.3)" style="stroke-width:0.8"/>
<path class="k" d="M824.5,659.9 L824.5,665.4 A4.5,2.2 0 0 0 833.5,665.4 L833.5,659.9 Z" style="stroke-width:1.3"/>
<ellipse class="k" cx="829.0" cy="659.9" rx="4.5" ry="2.2" transform="rotate(0 829.0 659.9)" style="stroke-width:1.3"/>
<ellipse class="k" cx="829.0" cy="659.9" rx="1.4" ry="0.8" transform="rotate(0 829.0 659.9)" style="stroke-width:0.8"/>
<circle cx="774.8" cy="708.5" r="1.8" fill="#000"/>
<circle cx="828.6" cy="693.5" r="1.8" fill="#000"/>
<polyline class="kn" points="774.4,658.6 774.4,675.0" style="stroke-width:1"/>
<polyline class="kn" points="829.0,627.0 829.0,660.0" style="stroke-width:1"/>
<path class="dsh2" d="M774.4,683 L774.4,706" />
<path class="dsh2" d="M829,667 L829,692" />
<circle cx="842" cy="588.3" r="2.2" fill="#000"/>
<polyline class="kn" points="842.0,588.3 823.0,595.5" style="stroke-width:2"/>
<polyline class="kn" points="842.0,588.3 823.0,595.5" style="stroke:#fff;stroke-width:0.6"/>
<circle cx="853.3" cy="640.5" r="2.2" fill="#000"/>
<polyline class="kn" points="853.3,640.5 836.0,647.0" style="stroke-width:2"/>
<polyline class="kn" points="853.3,640.5 836.0,647.0" style="stroke:#fff;stroke-width:0.6"/>
<circle cx="872.6" cy="621.2" r="2.2" fill="#000"/>
<polyline class="kn" points="872.6,621.2 864.0,624.6" style="stroke-width:2"/>
<polyline class="kn" points="872.6,621.2 864.0,624.6" style="stroke:#fff;stroke-width:0.6"/>
<polyline class="kn" points="826.0,599.0 830.5,606.0" style="stroke-width:2"/>
<path class="dsh" d="M830.7,607.6 L844.2,606.5 L851,628 L864,624.6" />
<path class="dsh" d="M788.7,638.2 L797.8,658.6 L834,647" />
<path class="dsh" d="M769.5,601.9 L780.8,607.6" />
<g class="lb"><text x="564.0" y="8.0">4</text><text x="616.0" y="28.5">32</text><text x="415.0" y="42.0">3</text><text x="700.7" y="86.0">33</text><text x="397.0" y="74.3">2</text><text x="307.4" y="103.4">1</text><text x="373.5" y="211.0">6</text><text x="379.0" y="281.0">2</text><text x="648.0" y="241.0">7</text><text x="911.0" y="268.6" style="font-size:9.5px">11B</text><text x="643.4" y="291.4">8</text><text x="669.0" y="313.0">9</text><text x="695.0" y="340.0">10</text><text x="485.7" y="353.7">7</text><text x="765.7" y="362.6" style="font-size:9.5px">11A</text><text x="123.9" y="399.9">28</text><text x="813.7" y="402.2">12</text><text x="884.9" y="413.5">13</text><text x="470.3" y="418.7">5</text><text x="545.5" y="460.0">31</text><text x="951.3" y="462.7">14</text><text x="927.8" y="481.8">15</text><text x="910.9" y="500.4">16</text><text x="842.4" y="539.4">17</text><text x="218.0" y="537.0">29</text><text x="554.0" y="554.2">22</text><text x="846.5" y="573.0">19</text><text x="746.2" y="573.4">18</text><text x="366.7" y="595.0">27</text><text x="488.5" y="595.0">26</text><text x="875.5" y="594.6">20</text><text x="425.6" y="629.3">22</text><text x="216.5" y="635.1">30</text><text x="885.0" y="653.5">20</text><text x="804.1" y="703.4">21</text><text x="544.8" y="715.0">25</text><text x="723.3" y="717.5">23</text><text x="672.2" y="735.4">24</text><text x="808.0" y="740.8">22</text><text x="491.5" y="749.0">17</text><text x="217.4" y="756.3">34</text><text x="458.0" y="775.5">13</text><text x="628.6" y="784.0">35</text><text x="433.4" y="792.6">16</text><text x="413.0" y="805.0">15</text><text x="389.4" y="821.0">14</text></g>
</svg>
<div class="ser" style="left:940px;top:5px;font-size:28px;letter-spacing:-0.3px;transform:scaleX(0.958);transform-origin:0 0;">GROUP EV</div>
<div class="ser" style="left:2px;top:807.5px;font-size:14px;letter-spacing:-0.4px;">REVISION: J-1202-C</div>
<div class="ser" style="left:2px;top:823.5px;font-size:14px;letter-spacing:-0.4px;">DATE: 12/16/2011</div>
<div class="san" style="left:495px;top:812px;font-size:15px;transform:scaleX(0.83);">Page 1 of 2</div>
<div class="san" style="left:775px;top:806px;font-size:14px;transform:scaleX(0.87);">Exploded View :</div>
<div class="san" style="left:873px;top:806.5px;font-size:13px;transform:scaleX(0.642);">EV POWER WASHER CONSUMER</div>
<div class="san" style="left:775px;top:822px;font-size:14px;transform:scaleX(0.87);">Drawing No. :</div>
<div class="san" style="left:858px;top:822px;font-size:14px;transform:scaleX(0.87);">0J2054</div>
</body></html>
